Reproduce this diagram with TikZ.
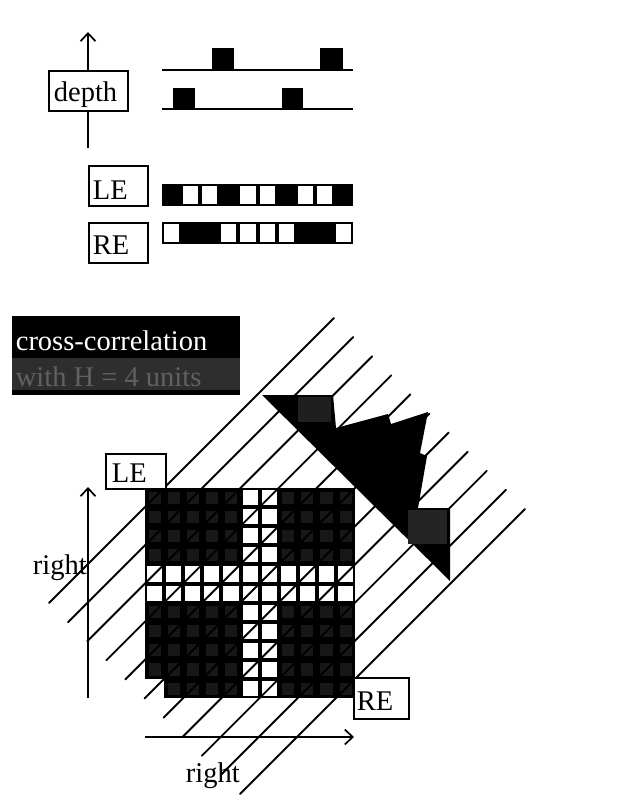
\documentclass[tikz,border=0pt]{standalone}
\usepackage{fontspec}
\setmainfont{Liberation Serif}
\usetikzlibrary{arrows.meta}
\begin{document}
\begin{tikzpicture}[x=1pt,y=-1pt,line width=1.7pt,
  >={Straight Barb[length=8pt,width=15pt]},
  boxnode/.style={draw=black,fill=white,line width=1.7pt,inner sep=0pt,anchor=north west},
  txt/.style={inner sep=0pt,anchor=base west,font=\fontsize{28.5pt}{30pt}\selectfont},
  diag/.style={line width=1.9pt,line cap=round},
  whitecell/.style={fill=white},
  graycell/.style={fill=black!91},
  pulse/.style={fill=black},
  base/.style={line width=2pt}]
\useasboundingbox (0,0) rectangle (620,800);
\fill[white] (0,0) rectangle (620,800);

% ---------- top: depth pulses ----------
\coordinate (dA) at (88,148);
\coordinate (dB) at (88,32);
\draw[->] (dA) -- (dB);
\node[boxnode,minimum width=79pt,minimum height=40pt] (depthbox) at (48,70) {};
\node[txt] (depthtxt) at (53,101) {depth};

\coordinate (l1a) at (162,70);  \coordinate (l1b) at (353,70);
\coordinate (l2a) at (162,109); \coordinate (l2b) at (353,109);
\draw[base] (l1a) -- (l1b);
\draw[base] (l2a) -- (l2b);
\fill[pulse] (212,48) rectangle (234,70);
\fill[pulse] (320,48) rectangle (343,70);
\fill[pulse] (173,88) rectangle (195,109);
\fill[pulse] (282,88) rectangle (303,109);

% ---------- LE / RE bars ----------
\node[boxnode,minimum width=59pt,minimum height=40pt] (LEtop) at (88,165) {};
\node[txt] (LEtoptxt) at (92,199) {LE};
\node[boxnode,minimum width=59pt,minimum height=40pt] (REtop) at (88,222) {};
\node[txt] (REtoptxt) at (92,254) {RE};

\fill[black] (162,184) rectangle (353,206);
\foreach \i in {1,2,4,5,7,8}
  \fill[whitecell] ({162+19.1*\i+2},186) rectangle ({162+19.1*(\i+1)-2},204);
\fill[black] (162,222) rectangle (353,244);
\foreach \i in {0,3,4,5,6,9}
  \fill[whitecell] ({162+19.1*\i+2},224) rectangle ({162+19.1*(\i+1)-2},242);

% ---------- cross-correlation label ----------
\fill[black] (12,316) rectangle (240,395);
\fill[black!82] (12,358) rectangle (240,390);
\node[txt,text=white] (cctxt) at (15,350) {cross-correlation};
\node[txt,text=black!62] (cctxt2) at (15,386) {with H = 4 units};

% ---------- matrix ----------
\def\cs{19.1}
\fill[black] (145,488) rectangle (355.1,698.1);
\fill[white] (145,679) rectangle (164.1,698.1);
% white cross
\foreach \q in {5,6}
  \foreach \r in {0,...,10}
    \fill[whitecell] ({145+\cs*\q+2},{488+\cs*\r+2}) rectangle ({145+\cs*(\q+1)-2},{488+\cs*(\r+1)-2});
\foreach \r in {4,5}
  \foreach \q in {0,...,10}
    \fill[whitecell] ({145+\cs*\q+2},{488+\cs*\r+2}) rectangle ({145+\cs*(\q+1)-2},{488+\cs*(\r+1)-2});
% faint texture of dark cells
\foreach \r in {0,1,2,3,6,7,8,9}
  \foreach \q in {0,1,2,3,4,7,8,9,10}
    \fill[graycell] ({145+\cs*\q+3.5},{488+\cs*\r+3.5}) rectangle ({145+\cs*(\q+1)-3.5},{488+\cs*(\r+1)-3.5});
\foreach \q in {1,2,3,4,7,8,9,10}
    \fill[graycell] ({145+\cs*\q+3.5},{488+\cs*10+3.5}) rectangle ({145+\cs*(\q+1)-3.5},{488+\cs*11-3.5});

% ---------- diagonal lines ----------
\foreach \k in {0,...,10}
  \draw[diag] ({49+19.1*\k},{603+19.1*\k}) -- ({334+19.1*\k},{318+19.1*\k});

% ---------- histogram ----------
\fill[black] (262,395) -- (333,395) -- (336,428) -- (388,414) -- (391,424) -- (428,412)
  -- (420,453) -- (427,456) -- (418,508) -- (450,508) -- (450,581) -- cycle;
\fill[black!88] (298,397) rectangle (331,422);
\fill[black!86] (408,510) rectangle (447,544);

% ---------- axes ----------
\coordinate (vA) at (88,698);
\coordinate (vB) at (88,487);
\draw[->] (vA) -- (vB);
\coordinate (hA) at (145,737);
\coordinate (hB) at (354,737);
\draw[->] (hA) -- (hB);
\node[txt] (rightv) at (32,574) {right};
\node[txt] (righth) at (185,782) {right};

\node[boxnode,minimum width=60pt,minimum height=35pt] (LEbot) at (105,453) {};
\node[txt] (LEbottxt) at (111,482) {LE};
\node[boxnode,minimum width=55pt,minimum height=41pt] (REbot) at (353,677) {};
\node[txt] (REbottxt) at (356,710) {RE};
\end{tikzpicture}
\end{document}
